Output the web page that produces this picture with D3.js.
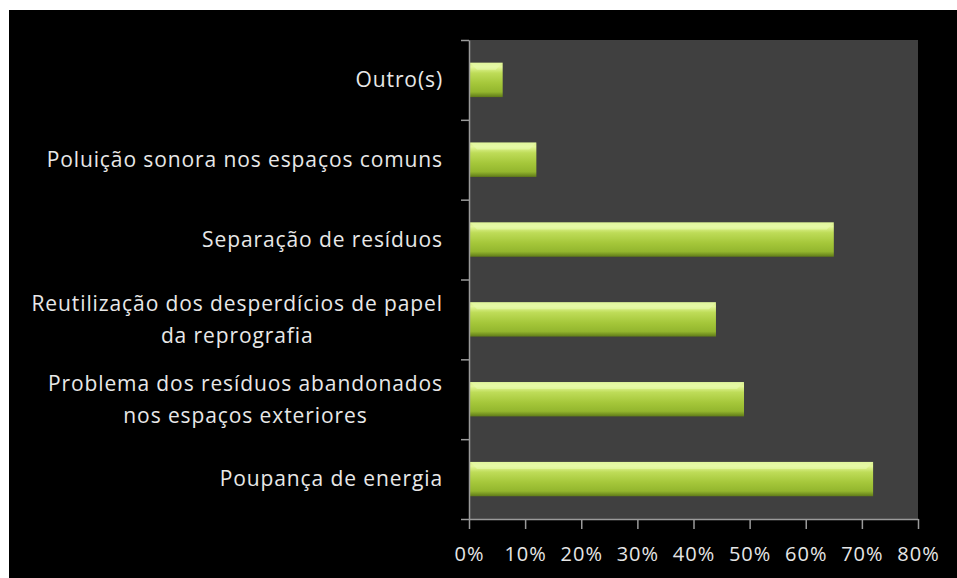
<!DOCTYPE html>
<html><head><meta charset="utf-8">
<script src="https://cdn.jsdelivr.net/npm/d3@7"></script>
<style>
html,body{margin:0;padding:0;background:#fff;}
svg{display:block;}
</style></head>
<body>
<svg id="chart" width="957" height="578"></svg>
<script>
const categories = [
  ["Outro(s)"],
  ["Poluição sonora nos espaços comuns"],
  ["Separação de resíduos"],
  ["Reutilização dos desperdícios de papel", "da reprografia"],
  ["Problema dos resíduos abandonados", "nos espaços exteriores"],
  ["Poupança de energia"]
];
const values = [6, 12, 65, 44, 49, 72];
const xTicks = [0, 10, 20, 30, 40, 50, 60, 70, 80];

(function () {
const svg = d3.select("#chart");
const font = "'Open Sans', 'Liberation Sans', sans-serif";
svg.append("rect").attr("x", 9).attr("y", 10).attr("width", 948).attr("height", 568).attr("fill", "#000");

const pL = 469, pR = 918, pT = 40, pB = 519;
const x = d3.scaleLinear().domain([0, 80]).range([pL, pR]);
const y = d3.scaleBand().domain(d3.range(categories.length)).range([pT, pB]).paddingInner(0.57).paddingOuter(0.285);

svg.append("rect").attr("x", pL).attr("y", pT).attr("width", pR - pL).attr("height", pB - pT).attr("fill", "#404040");

const defs = svg.append("defs");
const g = defs.append("linearGradient").attr("id", "barg").attr("x1", 0).attr("y1", 0).attr("x2", 0).attr("y2", 1);
[[0, "#d9ef86"], [0.12, "#e4f79a"], [0.3, "#bedc58"], [0.6, "#a5c73a"], [0.85, "#93b62e"], [1, "#5f7a18"]]
  .forEach(([o, c]) => g.append("stop").attr("offset", o).attr("stop-color", c));

svg.selectAll("rect.bar").data(values).join("rect").attr("class", "bar")
  .attr("x", x(0) + 1).attr("y", (d, i) => y(i))
  .attr("width", d => x(d) - x(0) - 1).attr("height", y.bandwidth())
  .attr("fill", "url(#barg)");

svg.selectAll("path.bev").data(values).join("path").attr("class", "bev")
  .attr("d", (d, i) => {
    const x0 = x(0) + 1, x1 = x(d), y0 = y(i), b = 7;
    return `M${x0},${y0}L${x1},${y0}L${x1 - b},${y0 + b}L${x0 + b},${y0 + b}Z`;
  })
  .attr("fill", "#e8fbb0").attr("opacity", 0.55);

const xAxis = d3.axisBottom(x).tickValues(xTicks).tickFormat(d => d + "%").tickSize(10).tickSizeOuter(0);
const xa = svg.append("g").attr("transform", `translate(0,${pB})`).call(xAxis);
xa.select(".domain").attr("stroke", "#9a9a9a").attr("stroke-width", 1.5);
xa.selectAll(".tick line").attr("stroke", "#9a9a9a").attr("stroke-width", 1.5);
xa.selectAll(".tick text").attr("fill", "#e6e6e6").attr("font-family", font).attr("font-size", 20)
  .attr("letter-spacing", "1px").attr("dy", "1.05em").attr("y", 21);

const yLine = d3.scaleLinear().domain([0, categories.length]).range([pT, pB]);
const ya = svg.append("g").attr("transform", `translate(${pL},0)`)
  .call(d3.axisLeft(yLine).tickValues(d3.range(categories.length + 1)).tickFormat("").tickSize(8).tickSizeOuter(0));
ya.select(".domain").attr("stroke", "#9a9a9a").attr("stroke-width", 1.5);
ya.selectAll(".tick line").attr("stroke", "#9a9a9a").attr("stroke-width", 1.5);

const labelRight = 443, lh = 32;
categories.forEach((lines, i) => {
  const cy = y(i) + y.bandwidth() / 2;
  const t = svg.append("text").attr("fill", "#e8e8e8").attr("font-family", font).attr("font-size", 21)
    .attr("letter-spacing", "0.9px").attr("text-anchor", "middle");
  const spans = lines.map((s, k) => t.append("tspan").text(s)
      .attr("y", cy + (k - (lines.length - 1) / 2) * lh).attr("dy", "0.35em"));
  const w = d3.max(spans, sp => sp.node().getComputedTextLength());
  spans.forEach(sp => sp.attr("x", labelRight - w / 2));
});
})();
</script>
</body></html>
